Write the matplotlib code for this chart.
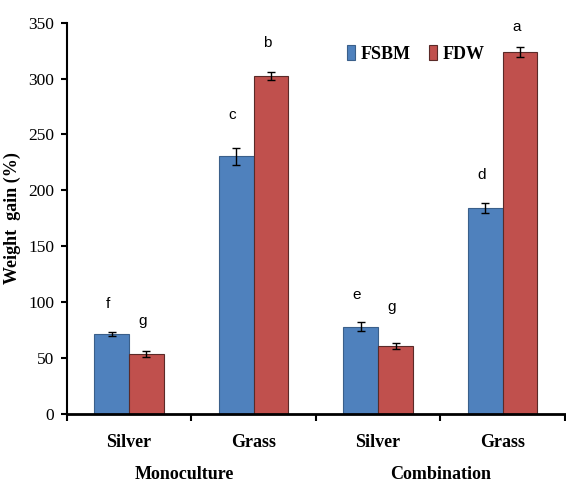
import matplotlib.pyplot as plt
import numpy as np

categories = ['Silver', 'Grass', 'Silver', 'Grass']
groups = ['Monoculture', 'Combination']
fsbm = [71.5, 230.5, 78, 184]
fdw = [53.5, 302.5, 60.5, 323.5]
fsbm_err = [1.5, 7.5, 4, 4.5]
fdw_err = [2.5, 3.5, 2.5, 4.5]
fsbm_letters = ['f', 'c', 'e', 'd']
fdw_letters = ['g', 'b', 'g', 'a']
fsbm_letter_y = [98, 267, 106, 214]
fdw_letter_y = [83, 332, 96, 346]

serif = 'Liberation Serif'
blue = '#4F81BD'
red = '#C0504D'

fig = plt.figure(figsize=(5.66, 4.84), dpi=100)
ax = fig.add_axes([0.118, 0.145, 0.88, 0.808])

x = np.arange(len(categories))
w = 0.28
ax.bar(x - w / 2, fsbm, w, color=blue, edgecolor='#3a5f8a', linewidth=0.8,
       yerr=fsbm_err, error_kw=dict(ecolor='black', elinewidth=1, capsize=3, capthick=1),
       label='FSBM', zorder=2)
ax.bar(x + w / 2, fdw, w, color=red, edgecolor='#5a2a28', linewidth=0.8,
       yerr=fdw_err, error_kw=dict(ecolor='black', elinewidth=1, capsize=3, capthick=1),
       label='FDW', zorder=2)

for i in range(len(categories)):
    ax.text(x[i] - w / 2 - 0.03, fsbm_letter_y[i], fsbm_letters[i], ha='center', va='center',
            fontsize=11, family='Liberation Sans')
    ax.text(x[i] + w / 2 - 0.03, fdw_letter_y[i], fdw_letters[i], ha='center', va='center',
            fontsize=11, family='Liberation Sans')

ax.set_xlim(-0.5, 3.5)
ax.set_ylim(0, 350)
ax.set_yticks(range(0, 351, 50))
ax.set_xticks(np.arange(-0.5, 3.6, 1))
ax.set_xticklabels([])
ax.tick_params(axis='y', direction='out', length=4, width=1.5, labelsize=12.5, pad=5)
ax.tick_params(axis='x', direction='out', length=5, width=1.5)
for lbl in ax.get_yticklabels():
    lbl.set_family(serif)

for s in ['top', 'right']:
    ax.spines[s].set_visible(False)
ax.spines['left'].set_linewidth(1.5)
ax.spines['bottom'].set_linewidth(2)

for i, c in enumerate(categories):
    ax.text(x[i], -26, c, ha='center', va='center', fontsize=13, fontweight='bold',
            family=serif)
ax.text(0.44, -54, groups[0], ha='center', va='center', fontsize=13, fontweight='bold',
        family=serif)
ax.text(2.5, -54, groups[1], ha='center', va='center', fontsize=13, fontweight='bold',
        family=serif)

ax.set_ylabel('Weight  gain (%)', fontsize=13, fontweight='bold', family=serif)
ax.yaxis.set_label_coords(-0.092, 0.5)

ax.legend(loc='upper left', bbox_to_anchor=(0.53, 0.985), ncol=2, frameon=False,
          prop=dict(family=serif, weight='bold', size=13), handlelength=0.45,
          handleheight=0.9, handletextpad=0.3, columnspacing=1.0)

fig.savefig('out.png', dpi=100)
